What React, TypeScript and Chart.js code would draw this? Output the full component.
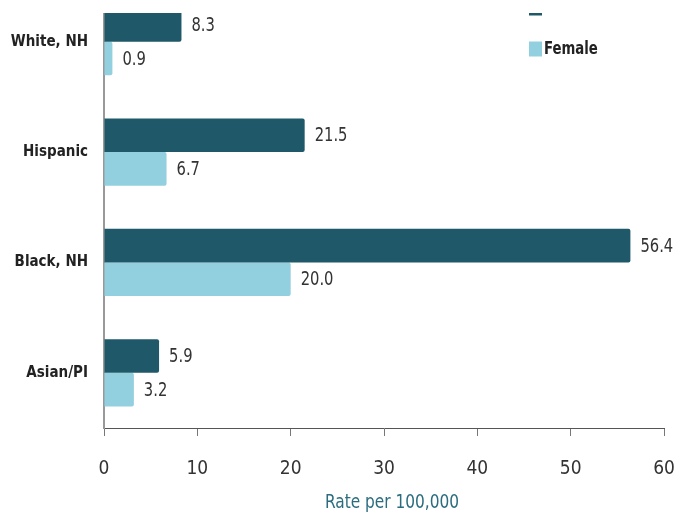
import React, { useEffect, useRef } from "react";
import { Chart, registerables } from "chart.js";

Chart.register(...registerables);

const categories = ["White, NH", "Hispanic", "Black, NH", "Asian/PI"];
const maleValues = [8.3, 21.5, 56.4, 5.9];
const femaleValues = [0.9, 6.7, 20.0, 3.2];
const seriesNames = ["Male", "Female"];
const xTicks = [0, 10, 20, 30, 40, 50, 60];
const axisTitle = "Rate per 100,000";

const MALE = "#1f5868";
const FEMALE = "#92cfdf";
const NARROW = "'Liberation Sans Narrow', 'DejaVu Sans Condensed', 'Roboto Condensed', sans-serif";

function squeezedText(ctx: any, text: string, x: number, y: number, sx: number) {
  ctx.save();
  ctx.translate(x, y);
  ctx.scale(sx, 1);
  ctx.fillText(text, 0, 0);
  ctx.restore();
}

const valueLabels = {
  id: "valueLabels",
  afterDatasetsDraw(chart: any) {
    const ctx = chart.ctx;
    ctx.save();
    ctx.font = `20px ${NARROW}`;
    ctx.fillStyle = "#333333";
    ctx.textAlign = "left";
    ctx.textBaseline = "middle";
    chart.data.datasets.forEach((ds: any, di: number) => {
      const meta = chart.getDatasetMeta(di);
      meta.data.forEach((bar: any, i: number) => {
        squeezedText(ctx, Number(ds.data[i]).toFixed(1), bar.x + 10, bar.y + 1, 0.82);
      });
    });
    ctx.restore();
  },
};

const customLegend = {
  id: "customLegend",
  afterDraw(chart: any) {
    const ctx = chart.ctx;
    ctx.save();
    ctx.font = `bold 18px ${NARROW}`;
    ctx.textAlign = "left";
    ctx.textBaseline = "middle";
    const colors = [MALE, FEMALE];
    seriesNames.forEach((name, i) => {
      const cy = 38 + i * 41;
      ctx.fillStyle = colors[i];
      ctx.fillRect(529, cy - 7.5, 13, 15);
      ctx.fillStyle = "#222222";
      squeezedText(ctx, name, 544, cy, 0.82);
    });
    // axis title
    ctx.font = `19px ${NARROW}`;
    ctx.fillStyle = "#2b6d7f";
    ctx.textAlign = "center";
    squeezedText(ctx, axisTitle, 392, 533, 0.9);
    ctx.restore();
  },
};

export default function App() {
  const ref = useRef<HTMLCanvasElement | null>(null);
  useEffect(() => {
    if (!ref.current) return;
    const chart = new Chart(ref.current, {
      type: "bar",
      data: {
        labels: categories,
        datasets: [
          {
            label: seriesNames[0],
            data: maleValues,
            backgroundColor: MALE,
            borderRadius: 2,
            borderSkipped: "start",
            barPercentage: 1,
            categoryPercentage: 0.61,
          },
          {
            label: seriesNames[1],
            data: femaleValues,
            backgroundColor: FEMALE,
            borderRadius: 2,
            borderSkipped: "start",
            barPercentage: 1,
            categoryPercentage: 0.61,
          },
        ],
      },
      options: {
        indexAxis: "y",
        responsive: false,
        maintainAspectRatio: false,
        animation: false,
        layout: { autoPadding: false, padding: { top: 16.5, right: 12, left: 0, bottom: 0 } },
        plugins: {
          legend: { display: false },
          tooltip: { enabled: false },
        },
        scales: {
          x: {
            min: xTicks[0],
            max: xTicks[xTicks.length - 1],
            afterBuildTicks: (scale: any) => {
              scale.ticks = xTicks.map((v) => ({ value: v }));
            },
            afterFit: (scale: any) => {
              scale.height = 90;
              scale.paddingLeft = 0;
              scale.paddingRight = 0;
              scale.paddingTop = 0;
              scale.paddingBottom = 0;
            },
            grid: {
              drawOnChartArea: false,
              drawTicks: true,
              tickLength: 8,
              color: "#777777",
            },
            border: { display: true, color: "#555555", width: 1 },
            ticks: {
              padding: 22,
              color: "#333333",
              font: { family: NARROW, size: 19 },
            },
            title: { display: false, text: axisTitle },
          },
          y: {
            afterFit: (scale: any) => {
              scale.width = 104;
              scale.paddingLeft = 0;
              scale.paddingRight = 0;
              scale.paddingTop = 0;
              scale.paddingBottom = 0;
            },
            grid: { display: false, drawTicks: false },
            border: { display: true, color: "#999999", width: 2 },
            ticks: {
              padding: 16,
              color: "#222222",
              font: { family: NARROW, size: 15, weight: "bold" },
            },
          },
        },
      },
      plugins: [valueLabels, customLegend],
    });
    return () => chart.destroy();
  }, []);

  return (
    <div style={{ position: "fixed", left: 0, top: 0, width: 676, height: 516, background: "#ffffff" }}>
      <div style={{ position: "absolute", left: 0, top: 13, width: 676, height: 503, overflow: "hidden" }}>
        <canvas
          ref={ref}
          width={676}
          height={548}
          style={{ position: "absolute", left: 0, top: -43, width: 676, height: 548 }}
        />
      </div>
    </div>
  );
}
